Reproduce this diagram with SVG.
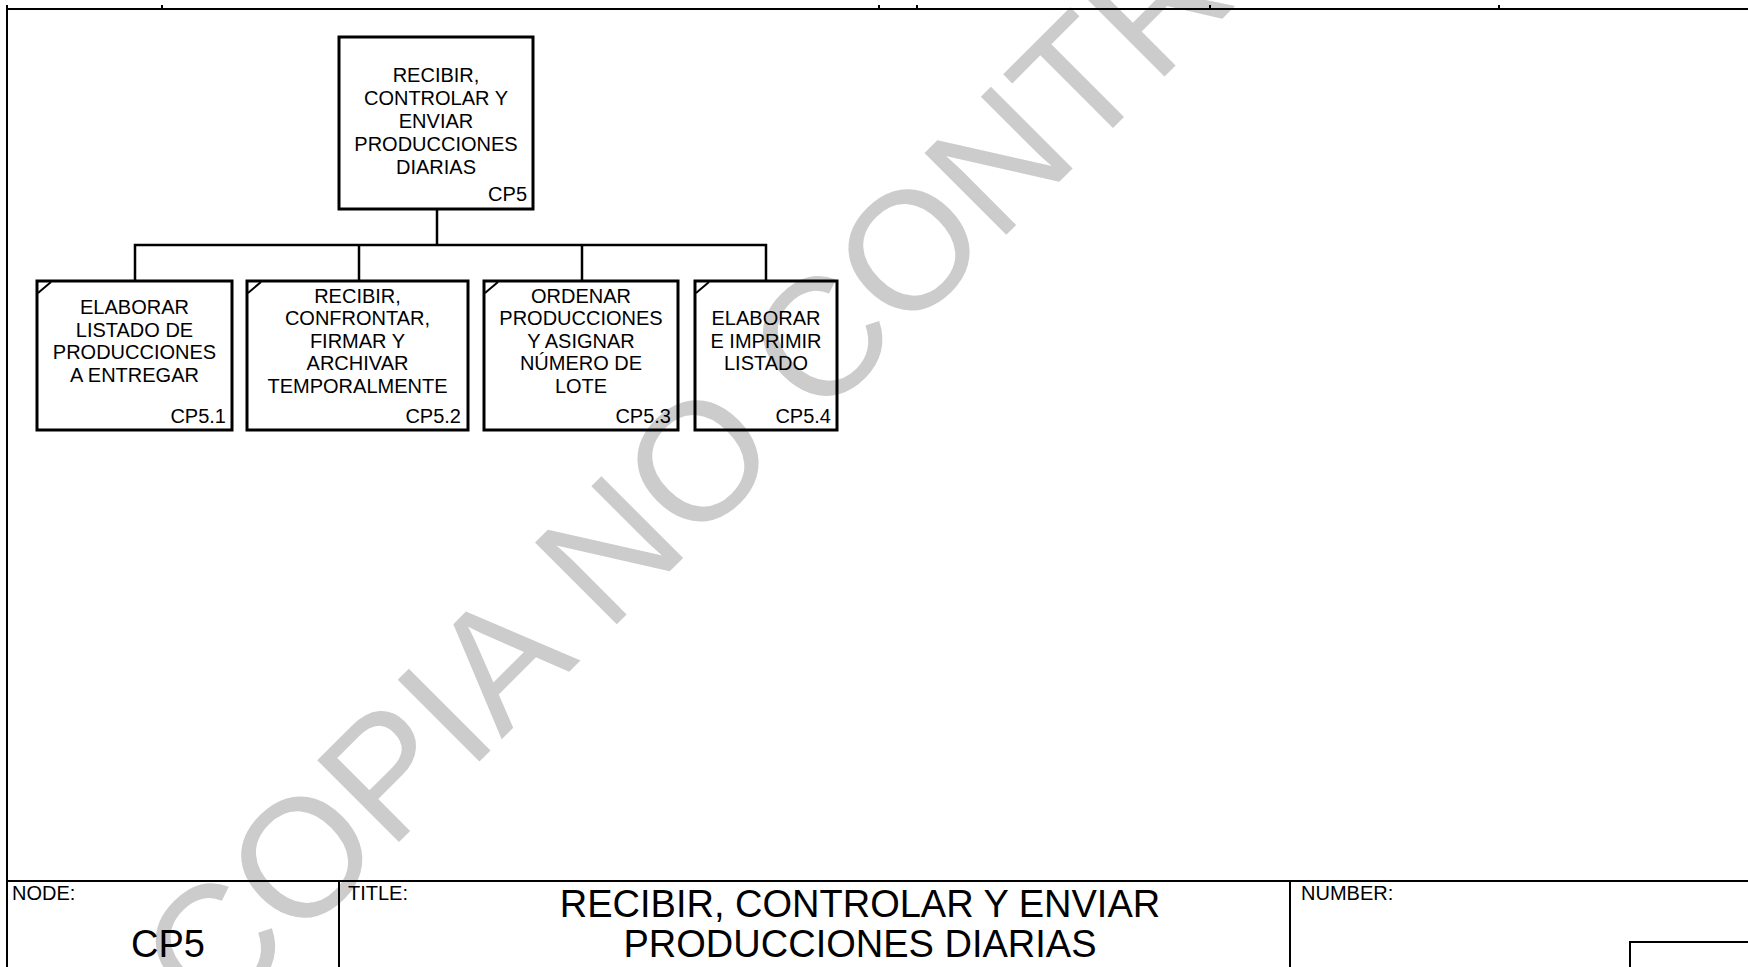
<svg xmlns="http://www.w3.org/2000/svg" width="1748" height="967" viewBox="0 0 1748 967">
<style>
.frame{stroke:#000;stroke-width:2;fill:none}
.box{stroke:#000;stroke-width:3;fill:none}
.tick{stroke:#000;stroke-width:2}
.conn{stroke:#000;stroke-width:2.5;fill:none}
.t{font-family:"Liberation Sans",Arial,sans-serif;font-size:20px;fill:#000;text-anchor:middle}
.id{font-family:"Liberation Sans",Arial,sans-serif;font-size:20px;fill:#000;text-anchor:end}
.lbl{font-family:"Liberation Sans",Arial,sans-serif;font-size:20px;fill:#000}
.big{font-family:"Liberation Sans",Arial,sans-serif;font-size:38px;fill:#000;text-anchor:middle}
.wm{font-family:"Liberation Sans",Arial,sans-serif;font-size:168px;fill:#cccccc}
</style>
<rect x="0" y="0" width="1748" height="967" fill="#fff"/>
<g id="watermark">
<text class="wm" transform="translate(211,1030) rotate(-45)">COPIA NO CONTROLADA</text>
</g>
<g id="frame">
<line class="frame" x1="7" y1="9" x2="1748" y2="9"/>
<line class="frame" x1="7" y1="5" x2="7" y2="967"/>
<line class="frame" x1="162" y1="5" x2="162" y2="9"/>
<line class="frame" x1="879" y1="5" x2="879" y2="9"/>
<line class="frame" x1="917" y1="5" x2="917" y2="9"/>
<line class="frame" x1="1210" y1="5" x2="1210" y2="9"/>
<line class="frame" x1="1499" y1="5" x2="1499" y2="9"/>
<line class="frame" x1="7" y1="881" x2="1748" y2="881"/>
<line class="frame" x1="339" y1="881" x2="339" y2="967"/>
<line class="frame" x1="1290" y1="881" x2="1290" y2="967"/>
<polyline class="frame" points="1630,967 1630,942 1748,942"/>
<text class="lbl" x="12" y="900">NODE:</text>
<text class="lbl" x="348" y="900">TITLE:</text>
<text class="lbl" x="1301" y="900">NUMBER:</text>
<text class="big" x="168" y="957">CP5</text>
<text class="big" x="860" y="917">RECIBIR, CONTROLAR Y ENVIAR</text>
<text class="big" x="860" y="957">PRODUCCIONES DIARIAS</text>
</g>
<g id="connectors">
<line class="conn" x1="437" y1="209" x2="437" y2="245"/>
<polyline class="conn" points="135,281 135,245 766,245 766,281"/>
<line class="conn" x1="359" y1="245" x2="359" y2="281"/>
<line class="conn" x1="582" y1="245" x2="582" y2="281"/>
</g>
<g id="node-CP5">
<rect class="box" x="339" y="37" width="194" height="172"/>
<text class="t" x="436" y="82">RECIBIR,</text>
<text class="t" x="436" y="105">CONTROLAR Y</text>
<text class="t" x="436" y="128">ENVIAR</text>
<text class="t" x="436" y="151">PRODUCCIONES</text>
<text class="t" x="436" y="174">DIARIAS</text>
<text class="id" x="527" y="201">CP5</text>
</g>
<g id="node-CP5.1">
<rect class="box" x="37" y="281" width="195" height="149"/>
<line class="tick" x1="38" y1="293" x2="51" y2="282"/>
<text class="t" x="134.5" y="314">ELABORAR</text>
<text class="t" x="134.5" y="336.5">LISTADO DE</text>
<text class="t" x="134.5" y="359">PRODUCCIONES</text>
<text class="t" x="134.5" y="381.5">A ENTREGAR</text>
<text class="id" x="226" y="423">CP5.1</text>
</g>
<g id="node-CP5.2">
<rect class="box" x="247" y="281" width="221" height="149"/>
<line class="tick" x1="248" y1="293" x2="261" y2="282"/>
<text class="t" x="357.5" y="302.5">RECIBIR,</text>
<text class="t" x="357.5" y="325">CONFRONTAR,</text>
<text class="t" x="357.5" y="347.5">FIRMAR Y</text>
<text class="t" x="357.5" y="370">ARCHIVAR</text>
<text class="t" x="357.5" y="392.5">TEMPORALMENTE</text>
<text class="id" x="461" y="423">CP5.2</text>
</g>
<g id="node-CP5.3">
<rect class="box" x="484" y="281" width="194" height="149"/>
<line class="tick" x1="485" y1="293" x2="498" y2="282"/>
<text class="t" x="581" y="302.5">ORDENAR</text>
<text class="t" x="581" y="325">PRODUCCIONES</text>
<text class="t" x="581" y="347.5">Y ASIGNAR</text>
<text class="t" x="581" y="370">NÚMERO DE</text>
<text class="t" x="581" y="392.5">LOTE</text>
<text class="id" x="671" y="423">CP5.3</text>
</g>
<g id="node-CP5.4">
<rect class="box" x="695" y="281" width="142" height="149"/>
<line class="tick" x1="696" y1="293" x2="709" y2="282"/>
<text class="t" x="766" y="325">ELABORAR</text>
<text class="t" x="766" y="347.5">E IMPRIMIR</text>
<text class="t" x="766" y="370">LISTADO</text>
<text class="id" x="831" y="423">CP5.4</text>
</g>
</svg>
